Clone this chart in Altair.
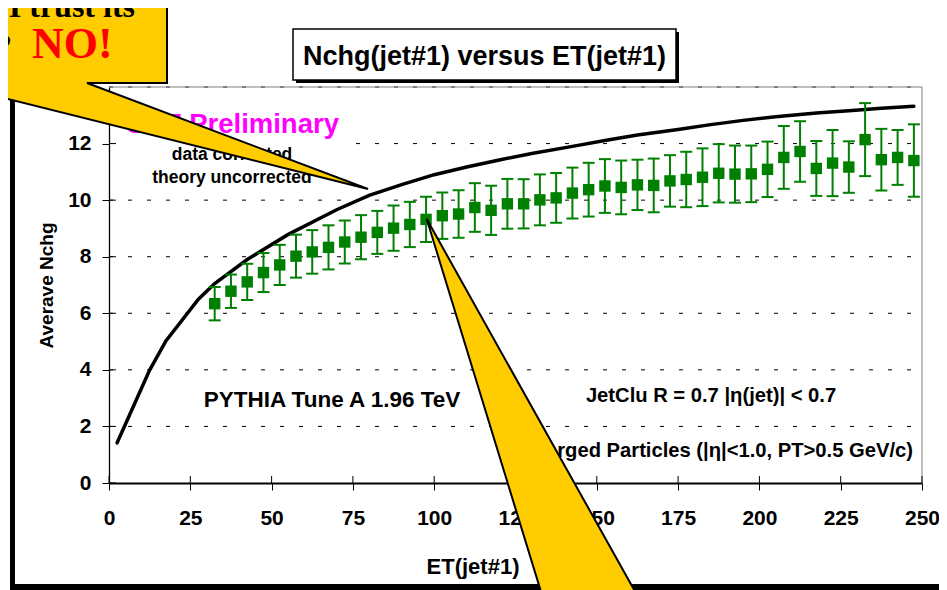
import altair as alt
import pandas as pd

# ---------------- data ----------------
et_data = [32.5, 37.5, 42.5, 47.5, 52.5, 57.5, 62.5, 67.5, 72.5, 77.5, 82.5,
           87.5, 92.5, 97.5, 102.5, 107.5, 112.5, 117.5, 122.5, 127.5, 132.5,
           137.5, 142.5, 147.5, 152.5, 157.5, 162.5, 167.5, 172.5, 177.5,
           182.5, 187.5, 192.5, 197.5, 202.5, 207.5, 212.5, 217.5, 222.5,
           227.5, 232.5, 237.5, 242.5, 247.5]
nchg_data = [6.34, 6.78, 7.11, 7.44, 7.71, 8.02, 8.17, 8.33, 8.52, 8.69, 8.86,
             9.01, 9.14, 9.32, 9.45, 9.51, 9.74, 9.64, 9.87, 9.87, 10.01,
             10.08, 10.25, 10.37, 10.50, 10.45, 10.54, 10.52, 10.68, 10.73,
             10.81, 10.95, 10.92, 10.93, 11.09, 11.51, 11.72, 11.12, 11.31,
             11.17, 12.14, 11.43, 11.51, 11.40]
nchg_err = [0.59, 0.59, 0.64, 0.69, 0.71, 0.76, 0.77, 0.78, 0.76, 0.78, 0.76,
            0.80, 0.80, 0.80, 0.82, 0.84, 0.86, 0.87, 0.88, 0.87, 0.90,
            0.88, 0.90, 0.95, 0.95, 0.95, 0.89, 0.95, 0.91, 0.98,
            1.02, 1.03, 1.01, 1.00, 0.98, 1.11, 1.07, 0.97, 1.17,
            0.91, 1.29, 1.09, 0.97, 1.28]

et_theory = [2.5, 12.5, 17.5, 27.5, 32.5, 42.5, 55, 70, 80, 90, 100, 110, 120,
             130, 142.5, 152.5, 162.5, 175, 185, 195, 205, 217.5, 227.5,
             237.5, 247.5]
nchg_theory = [1.42, 3.99, 5.02, 6.50, 7.05, 7.90, 8.78, 9.66, 10.17, 10.55,
               10.90, 11.17, 11.42, 11.65, 11.90, 12.11, 12.30, 12.50, 12.67,
               12.82, 12.95, 13.08, 13.16, 13.25, 13.32]

x_ticks = [0, 25, 50, 75, 100, 125, 150, 175, 200, 225, 250]
y_ticks = [0, 2, 4, 6, 8, 10, 12]
grid_levels = [2, 4, 6, 8, 10, 12, 14]

# ---------------- layout ----------------
W, H = 813, 396
PL, PT = 101, 79          # plot origin inside the svg (page 109, 87)
SVG_W, SVG_H = 931, 582
SANS = "Liberation Sans"
SERIF = "Liberation Serif"
GREEN = "#008000"
YELLOW = "#FFCC00"

xs = alt.Scale(domain=[0, 250], nice=False, zero=False)
ys = alt.Scale(domain=[0, 14], nice=False, zero=False)

XAX = alt.Axis(values=x_ticks, title="ET(jet#1)", grid=False, format="d",
               labelFont=SANS, labelFontWeight="bold", labelFontSize=21,
               labelColor="black", labelPadding=17, labelFlush=False,
               labelOverlap=False, tickSize=7, tickColor="black", tickWidth=1,
               domainColor="black", domainWidth=2,
               titleFont=SANS, titleFontWeight="bold", titleFontSize=22,
               titleColor="black", titleX=363.5, titleY=90,
               titleBaseline="alphabetic", titleAlign="center")
YAX = alt.Axis(values=y_ticks, title="Averave Nchg", grid=False, format="d",
               labelFont=SANS, labelFontWeight="bold", labelFontSize=21,
               labelColor="black", labelPadding=11, labelOverlap=False,
               labelFlush=False,
               tickSize=7, tickColor="black", tickWidth=1,
               domainColor="black", domainWidth=1.3,
               titleFont=SANS, titleFontWeight="bold", titleFontSize=19,
               titleColor="black", titleAngle=270, titleX=-57, titleY=198,
               titleBaseline="alphabetic", titleAlign="center")


def X(f):
    return alt.X(f, type="quantitative", scale=xs, axis=XAX)


def Y(f):
    return alt.Y(f, type="quantitative", scale=ys, axis=YAX)


def px2x(px):   # page pixel -> data units (decorations only)
    return (px - 109) / (W / 250)


def py2y(py):
    return (483 - py) / (H / 14)


one = pd.DataFrame({"k": [0]})

data = pd.DataFrame({"et": et_data, "n": nchg_data, "e": nchg_err})
data["lo"] = data["n"] - data["e"]
data["hi"] = data["n"] + data["e"]
theory = pd.DataFrame({"et": et_theory, "n": nchg_theory})
grid = pd.DataFrame({"g": grid_levels})
xt = pd.DataFrame({"v": x_ticks})
yt = pd.DataFrame({"v": y_ticks})


def prect(x1, x2, y1, y2, **kw):
    # page-pixel rectangle converted to plot-relative pixels
    return alt.Chart(one).mark_rect(**kw).encode(
        x=alt.value(x1 - 109), x2=alt.value(x2 - 109),
        y=alt.value(y1 - 87), y2=alt.value(y2 - 87))


def ptext(text, x, y, size, color="black", align="center", font=SANS):
    return alt.Chart(one).mark_text(
        text=text, fontSize=size, color=color, align=align,
        baseline="alphabetic", font=font, fontWeight="bold").encode(
        x=alt.value(x - 109), y=alt.value(y - 87))


layers = []

# gridlines
layers.append(alt.Chart(grid).mark_rule(color="black", strokeWidth=1,
                                        strokeDash=[4, 15]).encode(
    y=Y("g"), x=alt.value(0), x2=alt.value(W)))
# white box behind the "CDF Preliminary" text block
layers.append(prect(111, 347, 100, 190, color="white"))
# plot area border (right, top)
layers.append(alt.Chart(one).mark_rule(color="#808080", strokeWidth=1).encode(
    x=alt.value(W), y=alt.value(0), y2=alt.value(H)))
layers.append(alt.Chart(one).mark_rule(color="#808080", strokeWidth=1).encode(
    x=alt.value(0), x2=alt.value(W), y=alt.value(0)))
# inner halves of crossing ticks
layers.append(alt.Chart(xt).mark_rule(color="black", strokeWidth=1).encode(
    x=X("v"), y=alt.value(H - 7), y2=alt.value(H)))
layers.append(alt.Chart(yt).mark_rule(color="black", strokeWidth=1).encode(
    y=Y("v"), x=alt.value(0), x2=alt.value(7)))

# theory curve
layers.append(alt.Chart(theory).mark_line(color="black", strokeWidth=3.5,
                                          strokeCap="round").encode(
    x=X("et"), y=Y("n")))
# error bars
layers.append(alt.Chart(data).mark_rule(color=GREEN, strokeWidth=2).encode(
    x=X("et"), y=Y("lo"), y2="hi"))
for f in ["lo", "hi"]:
    layers.append(alt.Chart(data).mark_tick(color=GREEN, orient="horizontal",
                                            size=12, thickness=2,
                                            opacity=1).encode(
        x=X("et"), y=Y(f)))
# data points
layers.append(alt.Chart(data).mark_square(color=GREEN, size=130, opacity=1,
                                          filled=True).encode(
    x=X("et"), y=Y("n")))

# annotations inside the plot
layers.append(ptext("CDF Preliminary", 125, 133, 27.5, color="#FF00FF",
                    align="left"))
layers.append(ptext("data corrected", 232, 160, 17.5))
layers.append(ptext("theory uncorrected", 232, 183, 17.5))
layers.append(ptext("PYTHIA Tune A 1.96 TeV", 332, 407, 22.5))
layers.append(ptext("JetClu R = 0.7 |\u03b7(jet)| < 0.7", 711, 402, 20.2))
layers.append(ptext("Charged Particles (|\u03b7|<1.0, PT>0.5 GeV/c)", 913, 457,
                    20.2, align="right"))

# slide frame
layers.append(prect(10, 15, 80, 590, color="black"))
layers.append(prect(10, 960, 584, 590, color="black"))
layers.append(prect(167, 960, 0, 7, color="black"))

# chart title box with shadow
layers.append(prect(296, 679, 32, 83, color="black"))
layers.append(prect(293, 676, 29, 80, color="white", stroke="black",
                    strokeWidth=1.5))
layers.append(ptext("Nchg(jet#1) versus ET(jet#1)", 484.5, 65, 27))

# top-left callout
layers.append(prect(-20, 167, -20, 83, color=YELLOW, stroke="black",
                    strokeWidth=2))
layers.append(ptext("Can I trust its", 135, 17, 32, align="right", font=SERIF))
layers.append(ptext("theory?", 12, 57, 34, align="right", font=SERIF))
layers.append(ptext("NO!", 32, 58, 44, color="#FF0000", align="left",
                    font=SERIF))

wedge1 = pd.DataFrame({
    "x": [px2x(-10), px2x(86), px2x(87), px2x(368)],
    "t": [py2y(81), py2y(81), py2y(83), py2y(189)],
    "b": [py2y(94.5), py2y(118.5), py2y(118.75), py2y(189)],
})
layers.append(alt.Chart(wedge1).mark_area(color=YELLOW, opacity=1,
                                          interpolate="linear").encode(
    x=X("x"), y=Y("t"), y2="b"))
edge1 = pd.DataFrame({
    "x": [px2x(87), px2x(368), px2x(-10)],
    "y": [py2y(83), py2y(189), py2y(94.5)],
    "o": [0, 1, 2],
})
layers.append(alt.Chart(edge1).mark_line(color="black", strokeWidth=2,
                                         strokeJoin="miter").encode(
    x=X("x"), y=Y("y"), order="o:Q"))

# big callout pointing at a data point
wedge2 = pd.DataFrame({
    "y": [py2y(219), py2y(595)],
    "l": [px2x(426.7), px2x(542)],
    "r": [px2x(426.7), px2x(637)],
})
layers.append(alt.Chart(wedge2).mark_area(color=YELLOW, opacity=1,
                                          orient="horizontal").encode(
    y=Y("y"), x=X("l"), x2="r"))
edge2 = pd.DataFrame({
    "x": [px2x(542), px2x(426.7), px2x(637)],
    "y": [py2y(595), py2y(219), py2y(595)],
    "o": [0, 1, 2],
})
layers.append(alt.Chart(edge2).mark_line(color="black", strokeWidth=2,
                                         strokeJoin="miter").encode(
    x=X("x"), y=Y("y"), order="o:Q"))

chart = alt.layer(*layers).properties(
    width=W, height=H,
    autosize=alt.AutoSizeParams(type="none"),
    padding={"left": PL, "top": PT, "right": SVG_W - PL - W,
             "bottom": SVG_H - PT - H},
    background="white",
).configure_view(stroke=None)

chart.save("out.html", embed_options={"renderer": "svg", "actions": False})
